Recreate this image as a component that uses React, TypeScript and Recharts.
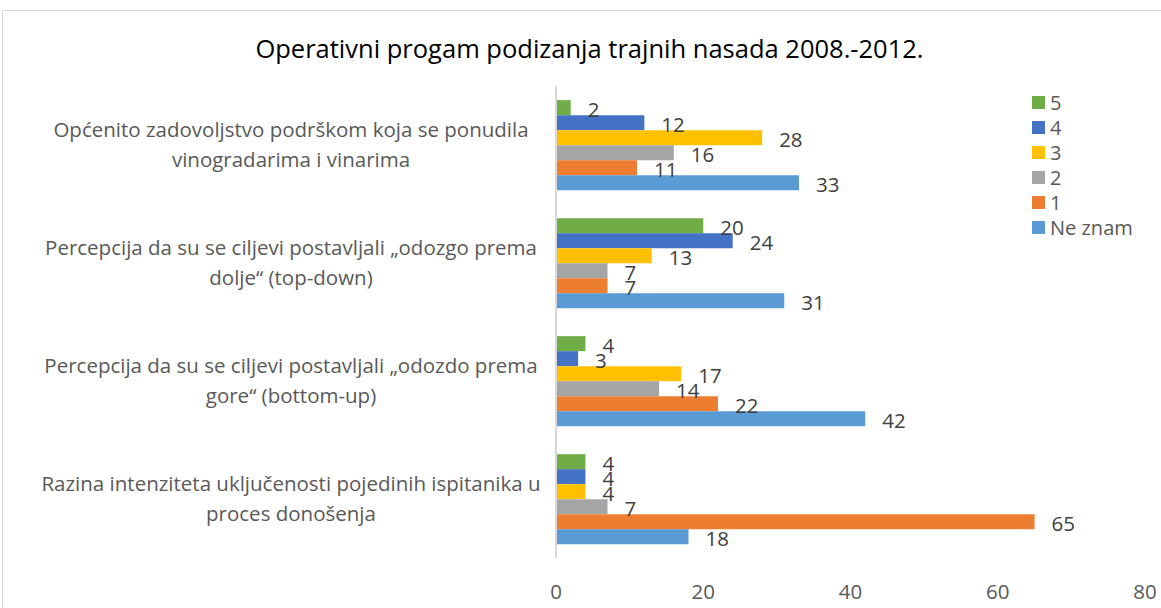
import React from "react";
import { BarChart, Bar, XAxis, YAxis, LabelList } from "recharts";

const categories = [
  "Općenito zadovoljstvo podrškom koja se ponudila vinogradarima i vinarima",
  "Percepcija da su se ciljevi postavljali „odozgo prema dolje“ (top-down)",
  "Percepcija da su se ciljevi postavljali „odozdo prema gore“ (bottom-up)",
  "Razina intenziteta uključenosti pojedinih ispitanika u proces donošenja",
];
const categoryLines = [
  ["Općenito zadovoljstvo podrškom koja se ponudila", "vinogradarima i vinarima"],
  ["Percepcija da su se ciljevi postavljali „odozgo prema", "dolje“ (top-down)"],
  ["Percepcija da su se ciljevi postavljali „odozdo prema", "gore“ (bottom-up)"],
  ["Razina intenziteta uključenosti pojedinih ispitanika u", "proces donošenja"],
];
const seriesNames = ["5", "4", "3", "2", "1", "Ne znam"];
const seriesColors = ["#70AD47", "#4472C4", "#FFC000", "#A5A5A5", "#ED7D31", "#5B9BD5"];
const values5 = [2, 20, 4, 4];
const values4 = [12, 24, 3, 4];
const values3 = [28, 13, 17, 4];
const values2 = [16, 7, 14, 7];
const values1 = [11, 7, 22, 65];
const valuesNeZnam = [33, 31, 42, 18];
const xTicks = [0, 20, 40, 60, 80];

const seriesValues = [values5, values4, values3, values2, values1, valuesNeZnam];
const keys = ["s5", "s4", "s3", "s2", "s1", "sNe"];

const data = categories.map((c, i) => {
  const row: any = { name: c };
  keys.forEach((k, j) => (row[k] = seriesValues[j][i]));
  return row;
});

const FONT = "'Open Sans', sans-serif";
const TEXT = "#595959";

const YTick = (props: any) => {
  const { x, y, payload } = props;
  const idx = categories.indexOf(payload.value);
  const lines = categoryLines[idx] || [payload.value];
  return (
    <g>
      {lines.map((l: string, i: number) => (
        <text
          key={i}
          x={x - 257}
          y={y + (i - (lines.length - 1) / 2) * 30}
          dy="0.35em"
          textAnchor="middle"
          fill={TEXT}
          fontSize={20.5}
          fontFamily={FONT}
        >
          {l}
        </text>
      ))}
    </g>
  );
};

export default function App() {
  return (
    <div style={{ position: "absolute", left: 0, top: 0, width: 1161, height: 608, background: "#fff", overflow: "hidden" }}>
      <div
        style={{
          position: "absolute",
          left: 2,
          top: 10,
          width: 1170,
          height: 620,
          border: "1px solid #d9d9d9",
        }}
      />
      <div
        style={{
          position: "absolute",
          left: 0,
          width: 1179,
          top: 30,
          lineHeight: "36px",
          textAlign: "center",
          fontFamily: FONT,
          fontSize: 25.5,
          color: "#000",
          whiteSpace: "nowrap",
        }}
      >
        Operativni progam podizanja trajnih nasada 2008.-2012.
      </div>
      <div style={{ position: "absolute", left: 0, top: 0 }}>
        <BarChart
          width={1161}
          height={608}
          data={data}
          layout="vertical"
          margin={{ top: 86, right: 16, bottom: 10, left: 0 }}
          barCategoryGap="12%"
          barGap={0}
        >
          <XAxis
            type="number"
            domain={[0, 80]}
            ticks={xTicks}
            axisLine={false}
            tickLine={false}
            tickMargin={20}
            height={40}
            tick={{ fill: TEXT, fontSize: 20.5, fontFamily: FONT }}
          />
          <YAxis
            type="category"
            dataKey="name"
            width={556}
            axisLine={{ stroke: "#d9d9d9", strokeWidth: 2 }}
            tickLine={false}
            tick={<YTick />}
            interval={0}
          />
          {keys.map((k, j) => (
            <Bar key={k} dataKey={k} name={seriesNames[j]} fill={seriesColors[j]} isAnimationActive={false}>
              <LabelList
                dataKey={k}
                position="right"
                offset={17}
                fill="#404040"
                fontSize={20.5}
                fontFamily={FONT}
                dy={2}
              />
            </Bar>
          ))}
        </BarChart>
      </div>
      <div
        style={{
          position: "absolute",
          left: 1032,
          top: 89.5,
          fontFamily: FONT,
          fontSize: 20,
          color: TEXT,
        }}
      >
        {seriesNames.map((n, i) => (
          <div key={n} style={{ display: "flex", alignItems: "center", height: 25, whiteSpace: "nowrap" }}>
            <span
              style={{
                width: 13,
                height: 13,
                background: seriesColors[i],
                display: "inline-block",
                marginRight: 5,
              }}
            />
            <span>{n}</span>
          </div>
        ))}
      </div>
    </div>
  );
}
